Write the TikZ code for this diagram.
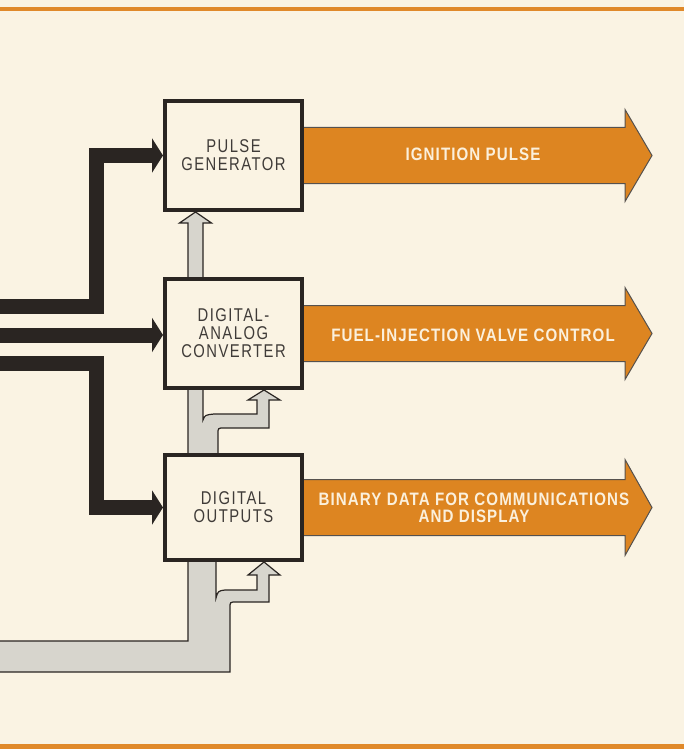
\documentclass[tikz,border=0pt]{standalone}
\usepackage{fontspec}
\usetikzlibrary{arrows.meta,calc}
\newfontfamily\boxfont[FakeStretch=0.8,LetterSpace=8]{Liberation Sans}
\newfontfamily\tagfont[FakeStretch=0.84,LetterSpace=6]{Liberation Sans}
\definecolor{paper}{HTML}{FAF3E3}
\definecolor{rulecol}{HTML}{E0892A}
\definecolor{outorange}{HTML}{DD8521}
\definecolor{ink}{HTML}{2A2522}
\definecolor{buscol}{HTML}{D7D5CD}
\definecolor{tagtext}{HTML}{FBF0DC}
\pgfdeclarelayer{bg}
\pgfsetlayers{bg,main}
\begin{document}
\begin{tikzpicture}[x=1pt,y=-1pt,
  box/.style={draw=ink, line width=4pt, fill=paper, minimum width=137pt, minimum height=109pt, align=center, text=ink!90, font=\boxfont\fontsize{18.5}{18}\selectfont},
  wire/.style={draw=ink, line width=15pt, -{Triangle[length=11pt,width=34pt]}},
  bus/.style={fill=buscol, draw=ink, line width=1.2pt},
  outarrow/.style={fill=outorange, draw=ink!80, line width=1pt},
  tag/.style={text=tagtext, align=center, font=\tagfont\bfseries\fontsize{18}{17}\selectfont}
]
\useasboundingbox (0,0) rectangle (684,749);
\node[box] (pg) at (233.5,155.5) {PULSE\\GENERATOR};
\node[box] (dac) at (233.5,333.5) {DIGITAL-\\ANALOG\\CONVERTER};
\node[box, minimum height=105pt] (dout) at (233.5,507.5) {DIGITAL\\OUTPUTS};
\coordinate (in1) at (-5,306.5);
\coordinate (in2) at (-5,335);
\coordinate (in3) at (-5,363);
\coordinate (j1) at (96.5,306.5);
\coordinate (j3) at (96.5,363);
\begin{pgfonlayer}{bg}
\fill[paper] (0,0) rectangle (684,749);
\fill[rulecol] (0,7.5) rectangle (684,11.5);
\fill[rulecol] (0,744) rectangle (684,749);
% control inputs
\draw[wire] (in1) -- (j1) |- (pg.west);
\draw[wire] (in2) -- (in2 -| dac.west);
\draw[wire] (in3) -- (j3) |- (dout.west);
% data bus
\draw[bus] (188,279) -- (188,223) -- (179.5,223) -- (195.5,212) -- (211.5,223) -- (203,223) -- (203,279) -- cycle;
\draw[bus] (188,388) -- (188,455) -- (218,455) -- (218,434) .. controls (218,428) .. (224,428)
  -- (269,428) -- (269,400) -- (280,400) -- (264,390) -- (248,400) -- (257,400) -- (257,414)
  -- (214,414) .. controls (205,415) .. (203,420) -- (203,388) -- cycle;
\draw[bus] (188,560) -- (188,641) -- (-5,641) -- (-5,672) -- (230,672) -- (230,608) .. controls (230,602) .. (236,602)
  -- (269,602) -- (269,575) -- (280,575) -- (264,562) -- (248,575) -- (257,575) -- (257,590)
  -- (225,590) .. controls (218,591) .. (216,598) -- (216,560) -- cycle;
% outputs
\draw[outarrow] ($(pg.east)+(-2,-28)$) -- ++(323,0) -- ++(0,-18) -- ++(27,46) -- ++(-27,46) -- ++(0,-18) -- ++(-323,0) -- cycle;
\draw[outarrow] ($(dac.east)+(-2,-28)$) -- ++(323,0) -- ++(0,-18) -- ++(27,46) -- ++(-27,46) -- ++(0,-18) -- ++(-323,0) -- cycle;
\draw[outarrow] ($(dout.east)+(-2,-28)$) -- ++(323,0) -- ++(0,-20) -- ++(27,48) -- ++(-27,48) -- ++(0,-20) -- ++(-323,0) -- cycle;
\end{pgfonlayer}
\node[tag] (ign) at (473,154.5) {IGNITION PULSE};
\node[tag] (fuel) at (473,335) {FUEL-INJECTION VALVE CONTROL};
\node[tag] (bin) at (474,508) {BINARY DATA FOR COMMUNICATIONS\\AND DISPLAY};
\end{tikzpicture}
\end{document}
